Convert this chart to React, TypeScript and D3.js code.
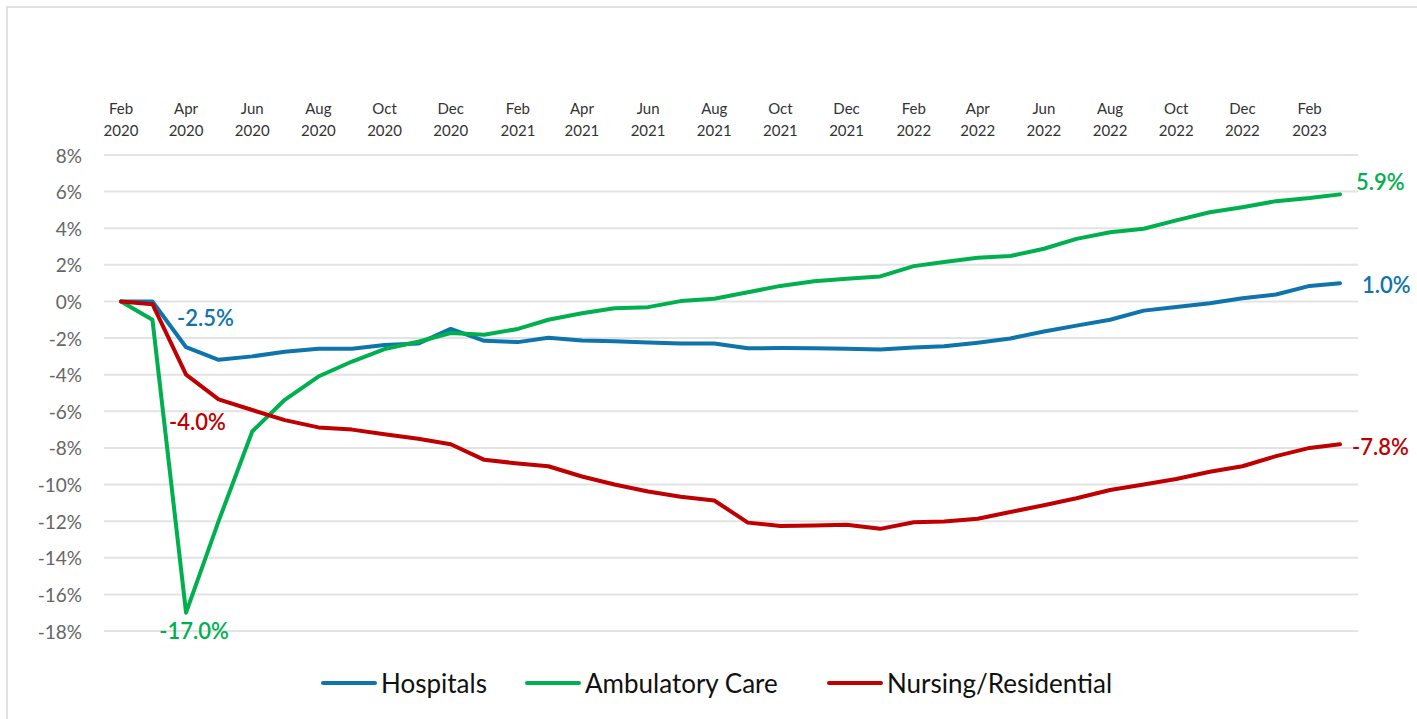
import * as d3 from "d3";

const WIDTH = 1417;
const HEIGHT = 719;
const MARGIN = { left: 121, right: 77, top: 155, bottom: 88 };

const START = new Date(2020, 1, 1);
const MONTHS = d3.timeMonth.range(START, new Date(2023, 3, 1));

const hospitals = [
  0, 0, -2.5, -3.19, -3.0, -2.75, -2.58, -2.58, -2.38, -2.3, -1.5, -2.15,
  -2.22, -1.98, -2.13, -2.18, -2.24, -2.3, -2.3, -2.56, -2.54, -2.55, -2.58,
  -2.63, -2.52, -2.45, -2.25, -2.02, -1.64, -1.32, -1.0, -0.5, -0.3, -0.1,
  0.18, 0.38, 0.85, 1.0,
];
const ambulatory = [
  0, -1.0, -17.0, -12.0, -7.1, -5.37, -4.1, -3.28, -2.6, -2.2, -1.72, -1.82,
  -1.5, -1.0, -0.64, -0.37, -0.31, 0.02, 0.15, 0.5, 0.85, 1.1, 1.24, 1.37,
  1.93, 2.15, 2.39, 2.48, 2.88, 3.42, 3.78, 3.97, 4.43, 4.87, 5.15, 5.48, 5.65,
  5.85,
];
const nursing = [
  0, -0.15, -4.0, -5.35, -5.93, -6.48, -6.88, -7.0, -7.25, -7.5, -7.8, -8.65,
  -8.85, -9.0, -9.56, -10.0, -10.38, -10.67, -10.87, -12.08, -12.26, -12.24,
  -12.2, -12.42, -12.06, -12.02, -11.87, -11.5, -11.13, -10.75, -10.3, -10.0,
  -9.7, -9.3, -9.0, -8.45, -8.0, -7.8,
];

const yTicks = [8, 6, 4, 2, 0, -2, -4, -6, -8, -10, -12, -14, -16, -18];

const SERIES = [
  {
    name: "Hospitals",
    values: hospitals,
    color: "#0E74AC",
    notes: [
      { i: 2, text: "-2.5%", dx: -9, dy: -30, anchor: "start" },
      { i: 37, text: "1.0%", dx: 22, dy: 1, anchor: "start" },
    ],
    legendX: 323,
  },
  {
    name: "Ambulatory Care",
    values: ambulatory,
    color: "#00B04F",
    notes: [
      { i: 2, text: "-17.0%", dx: 8, dy: 18, anchor: "middle" },
      { i: 37, text: "5.9%", dx: 16, dy: -13, anchor: "start" },
    ],
    legendX: 527,
  },
  {
    name: "Nursing/Residential",
    values: nursing,
    color: "#C00000",
    notes: [
      { i: 2, text: "-4.0%", dx: -17, dy: 47, anchor: "start" },
      { i: 37, text: "-7.8%", dx: 12, dy: 2, anchor: "start" },
    ],
    legendX: 829,
  },
];

const FONT = "Lato, 'Open Sans', sans-serif";

export default function App() {
  const x = d3
    .scaleTime()
    .domain([MONTHS[0], MONTHS[MONTHS.length - 1]])
    .range([MARGIN.left, WIDTH - MARGIN.right]);

  const y = d3
    .scaleLinear()
    .domain([8, -18])
    .range([MARGIN.top, HEIGHT - MARGIN.bottom]);

  const line = d3
    .line<number>()
    .x((_, i) => x(MONTHS[i]))
    .y((d) => y(d));

  const xTicks = MONTHS.filter((_, i) => i % 2 === 0);
  const fmtMonth = d3.timeFormat("%b");
  const fmtYear = d3.timeFormat("%Y");

  return (
    <svg
      width={WIDTH}
      height={HEIGHT}
      style={{ position: "absolute", left: 0, top: 0, background: "#fff" }}
      fontFamily={FONT}
    >
      {/* frame */}
      <rect
        x={7}
        y={7}
        width={WIDTH + 20}
        height={HEIGHT + 20}
        fill="none"
        stroke="#d9d9d9"
        strokeWidth={1.5}
      />

      {/* grid + y labels */}
      {yTicks.map((t) => (
        <g key={t}>
          <line
            x1={104}
            x2={1358}
            y1={y(t)}
            y2={y(t)}
            stroke="#e3e3e3"
            strokeWidth={2}
          />
          <text
            x={82}
            y={y(t)}
            textAnchor="end"
            dominantBaseline="central"
            fontSize={19}
            fill="#666"
          >
            {t}%
          </text>
        </g>
      ))}

      {/* x labels on top */}
      {xTicks.map((d) => (
        <g key={+d} transform={`translate(${x(d)},0)`}>
          <text y={114} textAnchor="middle" fontSize={15} fill="#333">
            {fmtMonth(d)}
          </text>
          <text y={136} textAnchor="middle" fontSize={15} fill="#333">
            {fmtYear(d)}
          </text>
        </g>
      ))}

      {/* lines */}
      {SERIES.map((s) => (
        <path
          key={s.name}
          d={line(s.values) ?? undefined}
          fill="none"
          stroke={s.color}
          strokeWidth={4}
          strokeLinejoin="round"
          strokeLinecap="round"
        />
      ))}

      {/* data labels */}
      {SERIES.map((s) =>
        s.notes.map((n) => (
          <text
            key={s.name + n.i + n.text}
            x={x(MONTHS[n.i]) + n.dx}
            y={y(s.values[n.i]) + n.dy}
            textAnchor={n.anchor}
            dominantBaseline="central"
            fontSize={22}
            fontWeight={600}
            fill={s.color}
          >
            {n.text}
          </text>
        ))
      )}

      {/* legend */}
      {SERIES.map((s) => (
        <g key={s.name} transform={`translate(${s.legendX},683)`}>
          <line
            x1={0}
            x2={52}
            stroke={s.color}
            strokeWidth={4}
            strokeLinecap="round"
          />
          <text
            x={58}
            dominantBaseline="central"
            fontSize={26}
            fill="#111"
          >
            {s.name}
          </text>
        </g>
      ))}
    </svg>
  );
}
